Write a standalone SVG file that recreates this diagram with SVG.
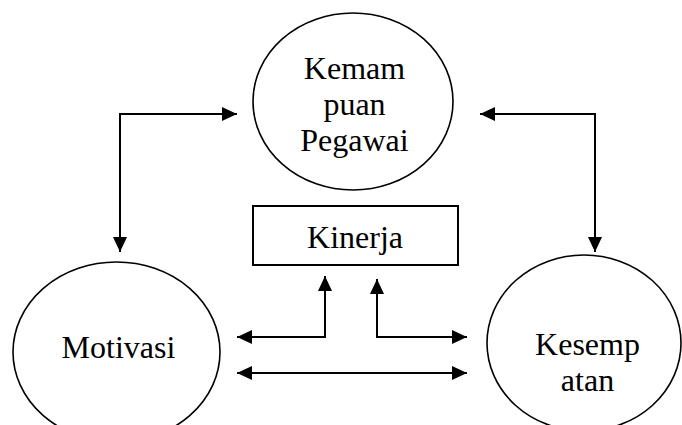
<svg xmlns="http://www.w3.org/2000/svg" width="682" height="425" viewBox="0 0 682 425">
<style>
.node{fill:#fff;stroke:#000;stroke-width:1.6}
.box{fill:#fff;stroke:#000;stroke-width:2}
.lbl{font-family:"Liberation Serif","Times New Roman",serif;font-size:32px;fill:#000;text-anchor:middle}
.con{fill:none;stroke:#000;stroke-width:2;marker-start:url(#ah);marker-end:url(#ah)}
</style>
<defs>
<marker id="ah" markerUnits="userSpaceOnUse" markerWidth="16" markerHeight="15" refX="15" refY="7" orient="auto-start-reverse">
<path d="M0,0 L15,7 L0,14 z" fill="#000"/>
</marker>
</defs>
<rect width="682" height="425" fill="#fff"/>
<g id="kemampuan">
<ellipse class="node" cx="353" cy="101.5" rx="100" ry="88.5"/>
<text class="lbl" x="354.5" y="79">Kemam</text>
<text class="lbl" x="354.5" y="115">puan</text>
<text class="lbl" x="354.5" y="151">Pegawai</text>
</g>
<g id="kinerja">
<rect class="box" x="253" y="206" width="205" height="59"/>
<text class="lbl" x="355" y="248">Kinerja</text>
</g>
<g id="motivasi">
<ellipse class="node" cx="116.5" cy="352" rx="103.5" ry="90"/>
<text class="lbl" x="118.5" y="358">Motivasi</text>
</g>
<g id="kesempatan">
<ellipse class="node" cx="584" cy="343" rx="97" ry="88"/>
<text class="lbl" x="587.5" y="355">Kesemp</text>
<text class="lbl" x="587.5" y="391">atan</text>
</g>
<g id="connectors">
<path class="con" d="M237,114 H120 V252"/>
<path class="con" d="M480,114 H595 V252"/>
<path class="con" d="M237,337 H325 V276"/>
<path class="con" d="M467,337 H377 V279"/>
<path class="con" d="M237,373 H467"/>
</g>
</svg>
